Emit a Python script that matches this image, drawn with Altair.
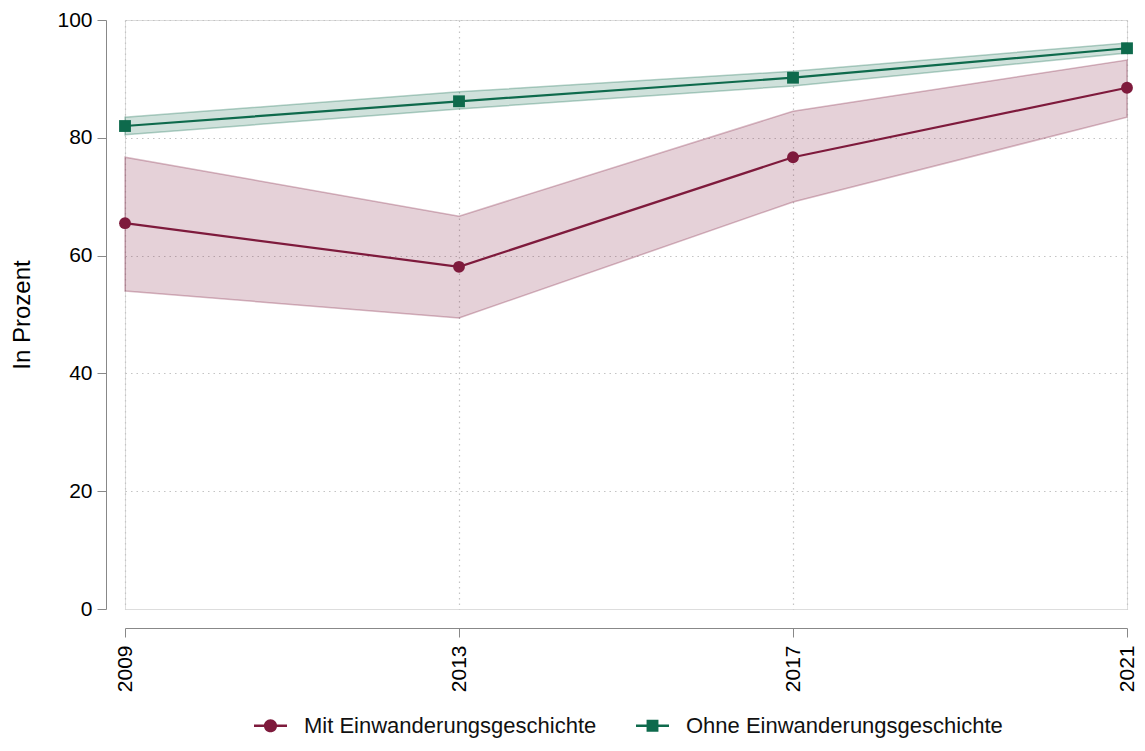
import altair as alt
import pandas as pd

years = [2009, 2013, 2017, 2021]
groups = ["Mit Einwanderungsgeschichte", "Ohne Einwanderungsgeschichte"]
mit_val = [65.5, 58.1, 76.7, 88.5]
mit_lo = [54.0, 49.4, 69.1, 83.5]
mit_hi = [76.7, 66.7, 84.5, 93.2]
ohne_val = [82.0, 86.2, 90.2, 95.2]
ohne_lo = [80.5, 84.9, 88.8, 94.4]
ohne_hi = [83.5, 87.8, 91.3, 96.1]
y_ticks = [0, 20, 40, 60, 80, 100]
colors = ["#7E1A3C", "#0E6A4C"]

rows = []
for g, v, lo, hi in [(groups[0], mit_val, mit_lo, mit_hi), (groups[1], ohne_val, ohne_lo, ohne_hi)]:
    for i, yr in enumerate(years):
        rows.append({"year": yr, "group": g, "value": v[i], "lo": lo[i], "hi": hi[i]})
df = pd.DataFrame(rows)

FONT = "Liberation Sans"
AXIS_GRAY = "#A6A6A6"

x_enc = alt.X(
    "year:Q",
    scale=alt.Scale(domain=[years[0], years[-1]], nice=False, zero=False),
    axis=alt.Axis(
        values=years, format="d", labelAngle=270, title=None,
        offset=19, tickSize=9, labelPadding=8, labelFontSize=21,
        grid=True, gridDash=[1.5, 4], gridColor="#C4C4C4", gridWidth=1.2,
    ),
)
y_axis = alt.Axis(
    values=y_ticks, title="In Prozent", offset=19, tickSize=9, labelPadding=5,
    labelFontSize=21, titleFontSize=24, titleFontWeight="normal", titlePadding=22,
    grid=True, gridDash=[1.5, 4], gridColor="#C4C4C4", gridWidth=1.2,
    gridOpacity={"condition": {"test": "datum.value === 0", "value": 0}, "value": 1},
)
y_scale = alt.Scale(domain=[0, 100], nice=False)

color_scale = alt.Scale(domain=groups, range=colors)

# legend glyphs: a short line with a marker (filled shapes, unit coordinates)
path_circle = ("M-1,-0.08L1,-0.08L1,0.08L-1,0.08Z"
               "M-0.4,0A0.4,0.4,0,1,1,0.4,0A0.4,0.4,0,1,1,-0.4,0Z")
path_square = ("M-1,-0.08L1,-0.08L1,0.08L-1,0.08Z"
               "M-0.36,-0.36L0.36,-0.36L0.36,0.36L-0.36,0.36Z")

legend = alt.Legend(
    orient="none", legendX=129, legendY=689, direction="horizontal", title=None,
    labelFontSize=22, symbolSize=1089, symbolStrokeWidth=0, labelOffset=17,
    columnPadding=39, padding=0, labelColor="#111111", labelFont=FONT,
    symbolOpacity=1, labelLimit=0,
)

base = alt.Chart(df)

band = base.mark_area(fillOpacity=0.2, strokeOpacity=0.3, strokeWidth=1.5).encode(
    x=x_enc,
    y=alt.Y("lo:Q", scale=y_scale, axis=y_axis),
    y2="hi:Q",
    color=alt.Color("group:N", scale=color_scale, legend=legend),
    stroke=alt.Stroke("group:N", scale=color_scale, legend=None),
    detail="group:N",
)

line = base.mark_line(strokeWidth=2.2).encode(
    x=x_enc,
    y=alt.Y("value:Q", scale=y_scale, axis=y_axis),
    color=alt.Color("group:N", scale=color_scale, legend=legend),
)

pts_mit = base.transform_filter(alt.datum.group == groups[0]).mark_point(
    filled=True, opacity=1, size=140, shape="circle"
).encode(
    x=x_enc,
    y=alt.Y("value:Q", scale=y_scale, axis=y_axis),
    color=alt.Color("group:N", scale=color_scale, legend=legend),
)

pts_ohne = base.transform_filter(alt.datum.group == groups[1]).mark_point(
    filled=True, opacity=1, size=140, shape="square"
).encode(
    x=x_enc,
    y=alt.Y("value:Q", scale=y_scale, axis=y_axis),
    color=alt.Color("group:N", scale=color_scale, legend=legend),
)

# empty layer that only carries the legend glyph shapes
legend_layer = base.transform_filter("false").mark_point(
    filled=True, opacity=1, size=1089
).encode(
    x=x_enc,
    y=alt.Y("value:Q", scale=y_scale, axis=y_axis),
    color=alt.Color("group:N", scale=color_scale, legend=legend),
    shape=alt.Shape("group:N", scale=alt.Scale(domain=groups, range=[path_circle, path_square]), legend=legend),
)

chart = alt.layer(band, line, pts_mit, pts_ohne, legend_layer).properties(
    width=1002, height=589,
    autosize=alt.AutoSizeParams(type="none"),
    padding={"left": 117, "top": 12, "right": 10, "bottom": 130},
    background="white",
).configure_view(stroke=None).configure_axis(
    domainColor=AXIS_GRAY, tickColor=AXIS_GRAY, domainWidth=1.5, tickWidth=1.5,
    labelColor="#111111", titleColor="#111111", labelFont=FONT, titleFont=FONT,
).configure(font=FONT)

chart.save("out.html", embed_options={"renderer": "svg", "actions": False})
